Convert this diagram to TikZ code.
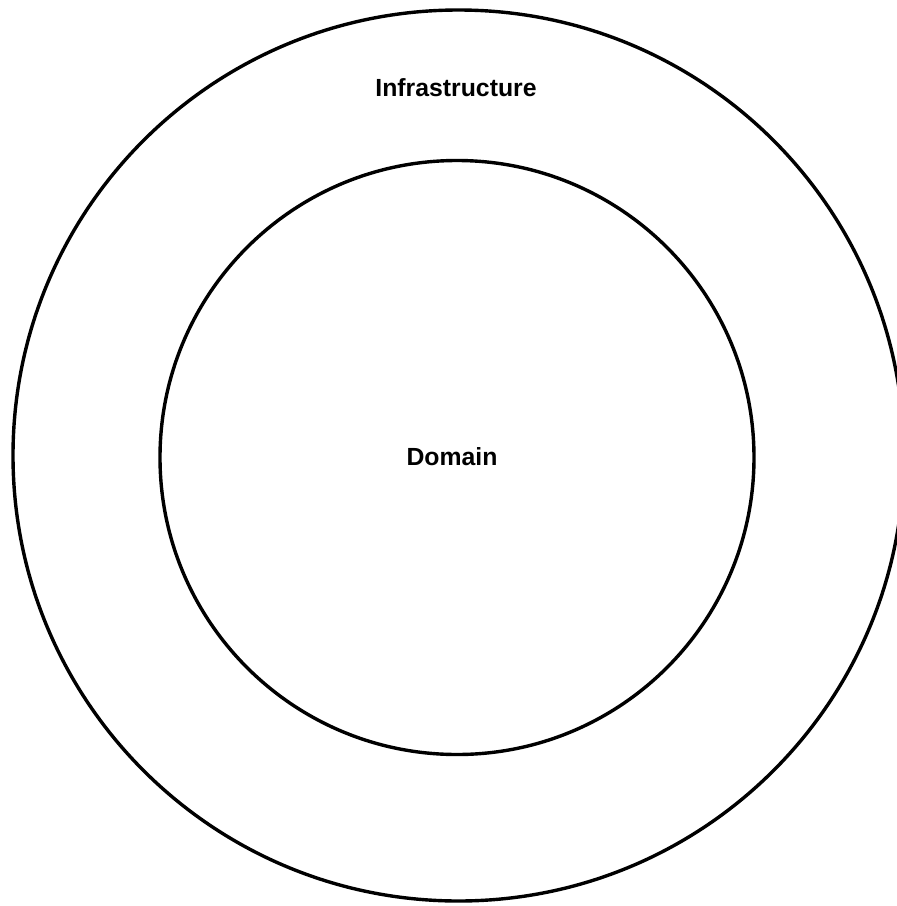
\documentclass[tikz,border=0pt]{standalone}
\usepackage{fontspec}
\setmainfont{Liberation Sans}
\usepackage{tikz}
\usetikzlibrary{positioning}

\tikzset{
  ring/.style={draw=black, circle, line width=1.7pt, inner sep=0pt},
  layerlabel/.style={font=\fontsize{12.4}{14}\selectfont\bfseries, anchor=base, inner sep=0pt}
}

\begin{document}
\begin{tikzpicture}[x=0.5pt, y=-0.5pt]
    % page frame, pixel coordinates of the reference
    \useasboundingbox (0,0) rectangle (897,906);
    % outer layer (cut at the right edge)
    \begin{scope}
    \clip (0,0) rectangle (897,906);
    \node[ring, minimum size=445.5pt] (infraring) at (458.5,455.5) {};
    \end{scope}
    % inner layer
    \node[ring, minimum size=297pt] (domainring) at (457,457.5) {};
    % labels
    \node[layerlabel] (infralabel) at (456,96) {Infrastructure};
    \node[layerlabel] (domainlabel) at (452,465) {Domain};
\end{tikzpicture}
\end{document}
